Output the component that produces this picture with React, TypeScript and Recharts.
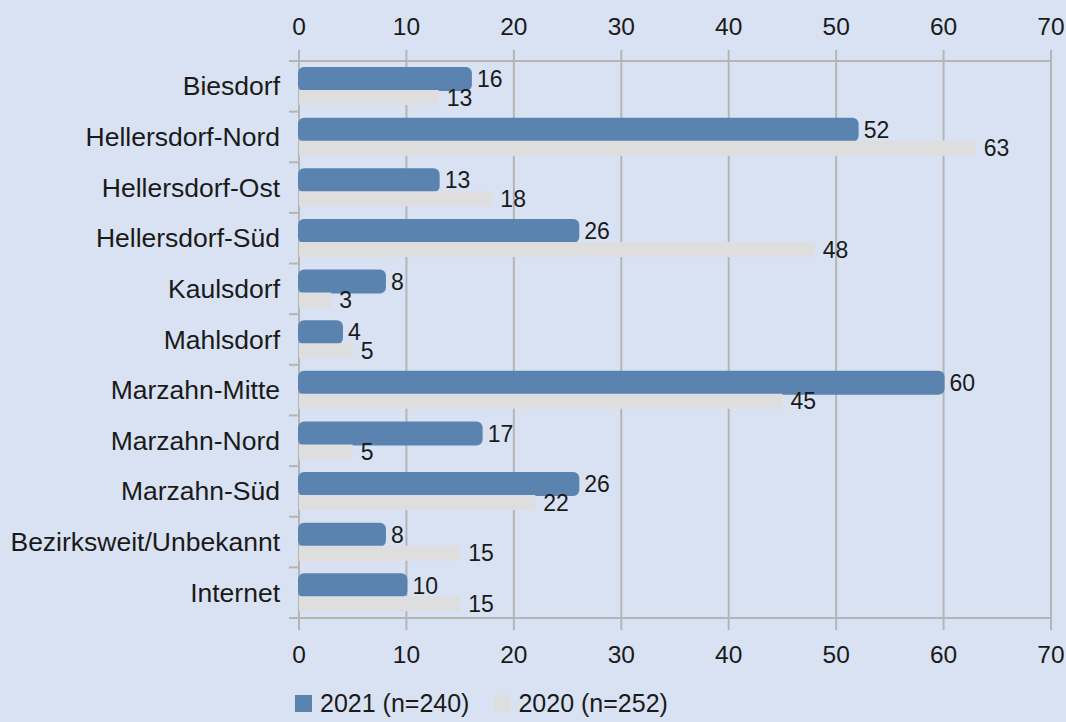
import { BarChart, Bar, XAxis, YAxis, CartesianGrid, Legend, LabelList } from "recharts";

const districts = [
  "Biesdorf",
  "Hellersdorf-Nord",
  "Hellersdorf-Ost",
  "Hellersdorf-Süd",
  "Kaulsdorf",
  "Mahlsdorf",
  "Marzahn-Mitte",
  "Marzahn-Nord",
  "Marzahn-Süd",
  "Bezirksweit/Unbekannt",
  "Internet",
];
const cases2021 = [16, 52, 13, 26, 8, 4, 60, 17, 26, 8, 10];
const cases2020 = [13, 63, 18, 48, 3, 5, 45, 5, 22, 15, 15];
const xTicks = [0, 10, 20, 30, 40, 50, 60, 70];

const data = districts.map((name, i) => ({
  name,
  y2021: cases2021[i],
  y2020: cases2020[i],
}));

const W = 1066;
const H = 722;
const FONT = "'Liberation Sans', Arial, sans-serif";
const BLUE = "#5b83b0";
const GRAY = "#dedede";
const GRID = "#b5b5b5";
const TEXT = "#1a1a1a";

const margin = { top: 0, right: 15, left: 0, bottom: 24 };
const topAxisH = 61;
const bottomAxisH = 50;
const legendH = 30;
const plotH = H - margin.top - topAxisH - margin.bottom - bottomAxisH - legendH;
const halfBand = plotH / districts.length / 2;

function CategoryTick(props: any) {
  const { x, y, payload, index } = props;
  const last = index === districts.length - 1;
  return (
    <g>
      <text
        x={x}
        y={y}
        textAnchor="end"
        dominantBaseline="central"
        fontSize={26.5}
        fontFamily={FONT}
        fill={TEXT}
      >
        {payload.value}
      </text>
      <line x1={x + 9} x2={x + 19} y1={y - halfBand} y2={y - halfBand} stroke={GRID} strokeWidth={2} />
      {last && (
        <line x1={x + 9} x2={x + 19} y1={y + halfBand} y2={y + halfBand} stroke={GRID} strokeWidth={2} />
      )}
    </g>
  );
}

function LegendBox() {
  const items = [
    { label: "2021 (n=240)", color: BLUE },
    { label: "2020 (n=252)", color: GRAY },
  ];
  return (
    <div style={{ display: "flex", alignItems: "center", height: legendH, fontFamily: FONT, fontSize: 25, color: TEXT }}>
      {items.map((it) => (
        <div key={it.label} style={{ display: "flex", alignItems: "center", marginRight: 24 }}>
          <span style={{ width: 17, height: 17, background: it.color, display: "inline-block", marginRight: 8 }} />
          <span>{it.label}</span>
        </div>
      ))}
    </div>
  );
}

export default function App() {
  const tickStyle = { fontSize: 24.5, fontFamily: FONT, fill: TEXT };
  return (
    <div style={{ position: "absolute", left: 0, top: 0, width: W, height: H, background: "#d9e2f3" }}>
      <BarChart
        width={W}
        height={H}
        data={data}
        layout="vertical"
        margin={margin}
        barGap={0}
      >
        <CartesianGrid horizontal={false} stroke={GRID} strokeWidth={2} xAxisId="bottom" />
        <XAxis
          xAxisId="top"
          orientation="top"
          type="number"
          domain={[0, 70]}
          ticks={xTicks}
          height={topAxisH}
          tick={tickStyle}
          tickSize={11}
          tickMargin={15}
          stroke={GRID}
          strokeWidth={2}
          interval={0}
        />
        <XAxis
          xAxisId="bottom"
          orientation="bottom"
          type="number"
          domain={[0, 70]}
          ticks={xTicks}
          height={bottomAxisH}
          tick={tickStyle}
          tickSize={12}
          tickMargin={16}
          stroke={GRID}
          strokeWidth={2}
          interval={0}
        />
        <YAxis
          type="category"
          dataKey="name"
          width={299}
          tick={<CategoryTick />}
          tickSize={0}
          tickMargin={19}
          axisLine={false}
          tickLine={false}
          interval={0}
        />
        <Legend
          verticalAlign="bottom"
          content={<LegendBox />}
          wrapperStyle={{ left: 295, bottom: 4, width: "auto" }}
        />
        <Bar
          xAxisId="top"
          dataKey="y2021"
          name="2021 (n=240)"
          fill={BLUE}
          stroke={BLUE}
          strokeWidth={2}
          radius={5}
          barSize={22}
          isAnimationActive={false}
        >
          <LabelList dataKey="y2021" position="right" offset={6} fontSize={23} fontFamily={FONT} fill={TEXT} />
        </Bar>
        <Bar
          xAxisId="bottom"
          dataKey="y2020"
          name="2020 (n=252)"
          fill={GRAY}
          barSize={15}
          isAnimationActive={false}
        >
          <LabelList dataKey="y2020" position="right" offset={8} fontSize={23} fontFamily={FONT} fill={TEXT} />
        </Bar>
      </BarChart>
    </div>
  );
}
